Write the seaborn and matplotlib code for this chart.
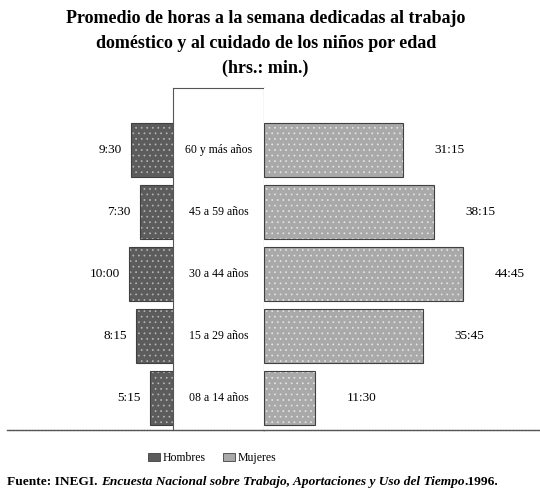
import pandas as pd
import seaborn as sns
import matplotlib.pyplot as plt

# data (hours per week)
ages = ["60 y más años", "45 a 59 años", "30 a 44 años", "15 a 29 años", "08 a 14 años"]
men_hours = [9.5, 7.5, 10.0, 8.25, 5.25]
women_hours = [31.25, 38.25, 44.75, 35.75, 11.5]
men_labels = ["9:30", "7:30", "10:00", "8:15", "5:15"]
women_labels = ["31:15", "38:15", "44:45", "35:45", "11:30"]

MEN_COLOR = "#5c5c5c"
WOMEN_COLOR = "#a9a9a9"
PX_PER_HOUR = 4.45


def style_bars(ax, hatch_rgba):
    for p in ax.patches:
        p.set_edgecolor("#404040")
        p.set_linewidth(0.8)
        p.set_hatch("...")
        p._hatch_color = hatch_rgba
        p.stale = True


def main():
    sns.set_theme(style="white")
    plt.rcParams["font.family"] = ["Liberation Serif", "DejaVu Serif"]
    plt.rcParams["text.color"] = "black"
    plt.rcParams["hatch.linewidth"] = 0.5

    df = pd.DataFrame({"Edad": ages, "Hombres": men_hours, "Mujeres": women_hours})

    fig = plt.figure(figsize=(5.4, 4.91), dpi=100)
    W, H = 540.0, 491.0
    y0, y1 = 430.0, 88.0
    bottom = 1 - y0 / H
    height = (y0 - y1) / H
    xl, xc, xr, xe = 7.0, 173.0, 264.0, 540.0

    ax_l = fig.add_axes([xl / W, bottom, (xc - xl) / W, height])
    ax_c = fig.add_axes([xc / W, bottom, (xr - xc) / W, height])
    ax_r = fig.add_axes([xr / W, bottom, (xe - xr) / W, height])

    sns.barplot(data=df, x="Hombres", y="Edad", orient="h", color=MEN_COLOR,
                saturation=1, width=0.88, ax=ax_l)
    sns.barplot(data=df, x="Mujeres", y="Edad", orient="h", color=WOMEN_COLOR,
                saturation=1, width=0.88, ax=ax_r)
    style_bars(ax_l, (0.72, 0.72, 0.72, 1))
    style_bars(ax_r, (0.9, 0.9, 0.9, 1))

    ax_l.set_xlim((xc - xl) / PX_PER_HOUR, 0)
    ax_r.set_xlim(0, (xe - xr) / PX_PER_HOUR)
    ylim = (4.52, -1.0)
    for ax in (ax_l, ax_c, ax_r):
        ax.set_ylim(*ylim)
        ax.set_xlabel("")
        ax.set_ylabel("")
        ax.set_xticks([])
        ax.set_yticks([])
        for s in ("top", "left", "right"):
            ax.spines[s].set_visible(False)
        ax.spines["bottom"].set_visible(True)
        ax.spines["bottom"].set_color("#555555")
        ax.spines["bottom"].set_linestyle((0, (1.5, 0.8)))
        ax.spines["bottom"].set_linewidth(1.0)

    # center column with age labels
    ax_c.set_xlim(0, 1)
    for s in ("top", "left", "right"):
        ax_c.spines[s].set_visible(True)
        ax_c.spines[s].set_color("#555555")
        ax_c.spines[s].set_linewidth(0.8)
    for i, lab in enumerate(ages):
        ax_c.text(0.5, i, lab, ha="center", va="center", fontsize=8.5)

    for i, (v, lab) in enumerate(zip(men_hours, men_labels)):
        ax_l.text(v + 2.0, i, lab, ha="right", va="center", fontsize=9.5)
    for i, (v, lab) in enumerate(zip(women_hours, women_labels)):
        ax_r.text(v + 7.0, i, lab, ha="left", va="center", fontsize=9.5)

    fig.text(0.492, 0.979, "Promedio de horas a la semana dedicadas al trabajo\n"
             "doméstico y al cuidado de los niños por edad\n(hrs.: min.)",
             ha="center", va="top", fontsize=13, fontweight="bold", linespacing=1.6)

    # legend
    handles = [plt.Rectangle((0, 0), 1, 1, facecolor=MEN_COLOR, edgecolor="#404040", lw=0.6),
               plt.Rectangle((0, 0), 1, 1, facecolor=WOMEN_COLOR, edgecolor="#404040", lw=0.6)]
    fig.legend(handles, ["Hombres", "Mujeres"], loc="center", bbox_to_anchor=(212 / W, 1 - 458 / H),
               ncol=2, frameon=False, fontsize=8.5, handlelength=1.0, handleheight=0.7,
               handletextpad=0.2, columnspacing=1.5)

    # source line, mixed upright/italic pieces
    pieces = [("Fuente: INEGI. ", "normal"),
              ("Encuesta Nacional sobre Trabajo, Aportaciones y Uso del Tiempo", "italic"),
              (".1996.", "normal")]
    fig.canvas.draw()
    renderer = fig.canvas.get_renderer()
    x = 7 / W
    for txt, st in pieces:
        t = fig.text(x, 1 - 482 / H, txt, ha="left", va="center", fontsize=9.6,
                     fontstyle=st, fontweight="bold")
        bb = t.get_window_extent(renderer)
        x += bb.width / W

    fig.savefig("out.png", dpi=100)


if __name__ == "__main__":
    main()
